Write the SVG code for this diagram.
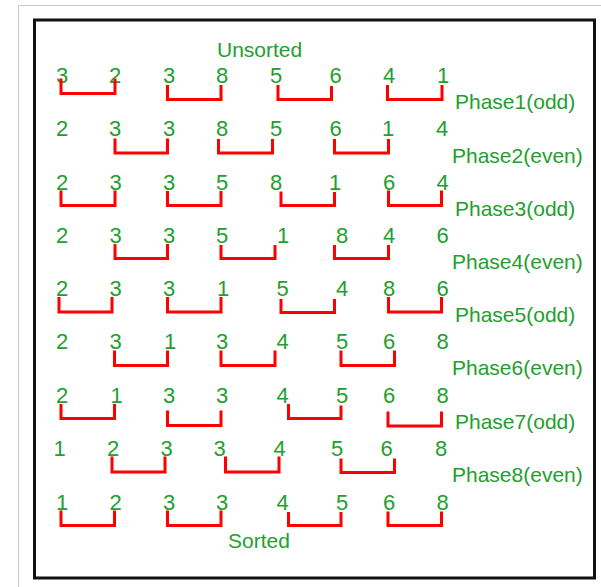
<svg xmlns="http://www.w3.org/2000/svg" width="601" height="587" viewBox="0 0 601 587">
  <style>
    text { font-family: "Liberation Sans", Arial, sans-serif; font-size: 21px; fill: #229f2e; }
    .n { text-anchor: middle; font-size: 22px; }
    .pair { fill: none; stroke: #ff0000; stroke-width: 3; stroke-linejoin: miter; stroke-linecap: square; }
  </style>
  <rect width="601" height="587" fill="#ffffff"/>
  <!-- outer page frame -->
  <path d="M18.5,587 V5.5 H601" fill="none" stroke="#c8c8c8" stroke-width="1"/>
  <!-- panel border -->
  <rect x="34.5" y="20" width="560" height="558" fill="#ffffff" stroke="#111111" stroke-width="3"/>

  <g id="title-unsorted"><text x="217" y="57">Unsorted</text></g>

  <g id="row1">
    <text class="n" x="62" y="83">3</text><text class="n" x="115" y="83">2</text>
    <text class="n" x="169" y="83">3</text><text class="n" x="222" y="83">8</text>
    <text class="n" x="276" y="83">5</text><text class="n" x="335.5" y="83">6</text>
    <text class="n" x="389" y="83">4</text><text class="n" x="443" y="83">1</text>
    <text x="455" y="109">Phase1(odd)</text>
  </g>
  <g id="row2">
    <text class="n" x="62" y="136">2</text><text class="n" x="115" y="136">3</text>
    <text class="n" x="169" y="136">3</text><text class="n" x="222" y="136">8</text>
    <text class="n" x="276" y="136">5</text><text class="n" x="335.5" y="136">6</text>
    <text class="n" x="388" y="136">1</text><text class="n" x="442" y="136">4</text>
    <text x="452" y="163">Phase2(even)</text>
  </g>
  <g id="row3">
    <text class="n" x="62" y="189.5">2</text><text class="n" x="115.5" y="189.5">3</text>
    <text class="n" x="169" y="189.5">3</text><text class="n" x="222" y="189.5">5</text>
    <text class="n" x="276" y="189.5">8</text><text class="n" x="335" y="189.5">1</text>
    <text class="n" x="389" y="189.5">6</text><text class="n" x="442.5" y="189.5">4</text>
    <text x="455" y="215.5">Phase3(odd)</text>
  </g>
  <g id="row4">
    <text class="n" x="62" y="243">2</text><text class="n" x="115.5" y="243">3</text>
    <text class="n" x="169" y="243">3</text><text class="n" x="222" y="243">5</text>
    <text class="n" x="283" y="243">1</text><text class="n" x="342" y="243">8</text>
    <text class="n" x="389" y="243">4</text><text class="n" x="442.5" y="243">6</text>
    <text x="452" y="269">Phase4(even)</text>
  </g>
  <g id="row5">
    <text class="n" x="62" y="296">2</text><text class="n" x="115.5" y="296">3</text>
    <text class="n" x="169" y="296">3</text><text class="n" x="223" y="296">1</text>
    <text class="n" x="282.5" y="296">5</text><text class="n" x="342" y="296">4</text>
    <text class="n" x="389" y="296">8</text><text class="n" x="442.5" y="296">6</text>
    <text x="455" y="322">Phase5(odd)</text>
  </g>
  <g id="row6">
    <text class="n" x="62" y="349">2</text><text class="n" x="115.5" y="349">3</text>
    <text class="n" x="170" y="349">1</text><text class="n" x="222" y="349">3</text>
    <text class="n" x="282.5" y="349">4</text><text class="n" x="342" y="349">5</text>
    <text class="n" x="389" y="349">6</text><text class="n" x="442.5" y="349">8</text>
    <text x="452" y="375">Phase6(even)</text>
  </g>
  <g id="row7">
    <text class="n" x="62" y="402.5">2</text><text class="n" x="116.5" y="402.5">1</text>
    <text class="n" x="169" y="402.5">3</text><text class="n" x="222" y="402.5">3</text>
    <text class="n" x="282.5" y="402.5">4</text><text class="n" x="342" y="402.5">5</text>
    <text class="n" x="389" y="402.5">6</text><text class="n" x="442.5" y="402.5">8</text>
    <text x="455" y="429">Phase7(odd)</text>
  </g>
  <g id="row8">
    <text class="n" x="59.5" y="456">1</text><text class="n" x="113" y="456">2</text>
    <text class="n" x="166.5" y="456">3</text><text class="n" x="219.5" y="456">3</text>
    <text class="n" x="279.5" y="456">4</text><text class="n" x="337" y="456">5</text>
    <text class="n" x="386.5" y="456">6</text><text class="n" x="441" y="456">8</text>
    <text x="452" y="482">Phase8(even)</text>
  </g>
  <g id="row9">
    <text class="n" x="62" y="509.5">1</text><text class="n" x="115.5" y="509.5">2</text>
    <text class="n" x="169" y="509.5">3</text><text class="n" x="222" y="509.5">3</text>
    <text class="n" x="282.5" y="509.5">4</text><text class="n" x="342" y="509.5">5</text>
    <text class="n" x="389" y="509.5">6</text><text class="n" x="442.5" y="509.5">8</text>
  </g>

  <g id="title-sorted"><text x="228" y="548">Sorted</text></g>

  <!-- compare-exchange brackets -->
  <g id="connectors" class="pair">
    <!-- phase 1 -->
    <path d="M61,80 V93.5 H115 V80"/>
    <path d="M167.5,86.5 V99.5 H221 V86.5"/>
    <path d="M278,86.5 V99.5 H331.5 V87.5"/>
    <path d="M387.5,86.5 V99.5 H442 V86.5"/>
    <!-- phase 2 -->
    <path d="M115,140 V153 H167.5 V140"/>
    <path d="M218.5,140.5 V153 H272.5 V140.5"/>
    <path d="M334.5,140.5 V153 H388.5 V140.5"/>
    <!-- phase 3 -->
    <path d="M61,192 V205.5 H115 V192"/>
    <path d="M167.5,192.5 V205.5 H221 V192.5"/>
    <path d="M281,193 V205.5 H334.5 V193.5"/>
    <path d="M388.5,192 V205.5 H441.5 V192"/>
    <!-- phase 4 -->
    <path d="M115,245.5 V258.5 H167.5 V245.5"/>
    <path d="M221,246.5 V258.5 H275 V246.5"/>
    <path d="M334.5,246.5 V258.5 H388.5 V246.5"/>
    <!-- phase 5 -->
    <path d="M59,298.5 V312 H112 V298.5"/>
    <path d="M167.5,298.5 V312 H221 V298.5"/>
    <path d="M281,300.5 V312.5 H334.5 V300.5"/>
    <path d="M388.5,298.5 V312 H441.5 V298.5"/>
    <!-- phase 6 -->
    <path d="M114.5,352 V365.5 H167.5 V352"/>
    <path d="M221,352 V365.5 H275 V352"/>
    <path d="M341,352 V365.5 H394.5 V352"/>
    <!-- phase 7 -->
    <path d="M61,405.5 V418.5 H114.5 V405.5"/>
    <path d="M167.5,412 V425.5 H221 V412"/>
    <path d="M288.5,405.5 V418.5 H341 V407"/>
    <path d="M388,413 V426 H441.5 V413"/>
    <!-- phase 8 -->
    <path d="M112,458 V472 H165 V458"/>
    <path d="M225.5,458 V472 H279 V458"/>
    <path d="M341,460 V472.5 H394.5 V460"/>
    <!-- sorted -->
    <path d="M61,512 V525.5 H114.5 V512"/>
    <path d="M167.5,512 V525.5 H221 V512"/>
    <path d="M288.5,513.5 V525.5 H341 V513.5"/>
    <path d="M388,513 V525.5 H441.5 V513"/>
  </g>
</svg>
